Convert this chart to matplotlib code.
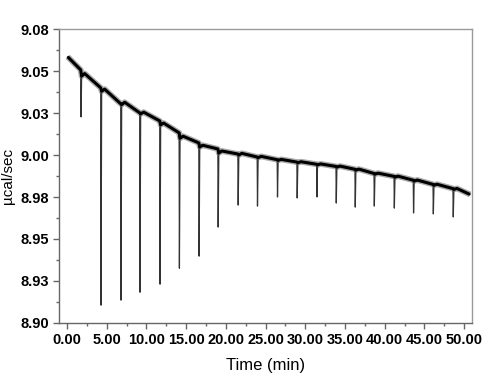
import matplotlib
matplotlib.use("Agg")
import matplotlib.pyplot as plt
from matplotlib.ticker import MultipleLocator, FormatStrFormatter

plt.rcParams['font.family'] = ['Liberation Sans', 'DejaVu Sans']

# injection times (min) and heat-flow readings (ucal/sec)
inj_times = [1.73, 4.25, 6.77, 9.16, 11.68, 14.12, 16.6, 19.0, 21.52, 23.95,
             26.47, 28.95, 31.43, 33.87, 36.26, 38.66, 41.18, 43.6, 46.09, 48.6]
pre_vals = [9.0507, 9.0400, 9.0305, 9.0251, 9.0203, 9.0132, 9.0072, 9.0036, 9.0006, 8.9988,
            8.9972, 8.9958, 8.9945, 8.9932, 8.9915, 8.9890, 8.9873, 8.9850, 8.9825, 8.9800]
min_vals = [9.0227, 8.9106, 8.9136, 8.9183, 8.9231, 8.9326, 8.9398, 8.9571, 8.9702, 8.9696,
            8.9750, 8.9744, 8.9750, 8.9714, 8.9690, 8.9696, 8.9684, 8.9655, 8.9649, 8.9631]
post_vals = [9.0470, 9.0380, 9.0300, 9.0245, 9.0180, 9.0100, 9.0048, 9.0012, 9.0000, 8.9984,
             8.9968, 8.9954, 8.9941, 8.9928, 8.9910, 8.9886, 8.9868, 8.9845, 8.9820, 8.9795]
peak_vals = [9.0485, 9.0392, 9.0314, 9.0255, 9.0190, 9.0112, 9.0058, 9.0024, 9.0010, 8.9992,
             8.9974, 8.9960, 8.9947, 8.9934, 8.9916, 8.9892, 8.9874, 8.9851, 8.9826, 8.9801]
start_t, start_v = 0.09, 9.0585
end_t, end_v = 50.75, 8.9765

x_ticks = [0, 5, 10, 15, 20, 25, 30, 35, 40, 45, 50]
y_ticks = [8.900, 8.925, 8.950, 8.975, 9.000, 9.025, 9.050, 9.075]
y_labels = ['8.90', '8.93', '8.95', '8.98', '9.00', '9.03', '9.05', '9.08']

# spike shape offsets (min)
drop_dt = 0.04
recover_dt = 0.12
peak_dt = 0.5

trace_t = [start_t]
trace_v = [start_v]
base_t = [start_t]
base_v = [start_v]
for t, pre, mn, post, pk in zip(inj_times, pre_vals, min_vals, post_vals, peak_vals):
    trace_t += [t, t + drop_dt, t + recover_dt, t + peak_dt]
    trace_v += [pre, mn, post, pk]
    base_t += [t, t + recover_dt, t + peak_dt]
    base_v += [pre, post, pk]
trace_t.append(end_t)
trace_v.append(end_v)
base_t.append(end_t)
base_v.append(end_v)

fig = plt.figure(figsize=(5.03, 3.82), dpi=100)
ax = fig.add_axes([0.1173, 0.1545, 0.8211, 0.7695])

ax.plot(trace_t, trace_v, color='#333333', lw=0.9)
ax.plot(base_t, base_v, color='#666666', lw=4.2, alpha=0.55, solid_capstyle='butt')
ax.plot(base_t, base_v, color='black', lw=2.2, solid_capstyle='butt')

ax.set_xlim(-1.0, 51.0)
ax.set_ylim(8.90, 9.075)
ax.set_xticks(x_ticks)
ax.set_yticks(y_ticks)
ax.set_yticklabels(y_labels)
ax.xaxis.set_minor_locator(MultipleLocator(2.5))
ax.yaxis.set_minor_locator(MultipleLocator(0.0125))
ax.xaxis.set_major_formatter(FormatStrFormatter('%.2f'))

for side in ['left', 'bottom']:
    ax.spines[side].set_color('#666666')
for side in ['top', 'right']:
    ax.spines[side].set_color('#9a9a9a')
for sp in ax.spines.values():
    sp.set_linewidth(1.0)

ax.tick_params(which='major', direction='out', length=4, width=1, color='#666666',
               labelsize=10.5, pad=3)
ax.tick_params(which='minor', direction='out', length=2.5, width=1, color='#666666')
for lab in ax.get_xticklabels() + ax.get_yticklabels():
    lab.set_fontweight('bold')

ax.set_xlabel('Time (min)', fontsize=12, labelpad=8)
ax.set_ylabel('\u00b5cal/sec', fontsize=11, labelpad=4)

fig.savefig('out.png', dpi=100)
